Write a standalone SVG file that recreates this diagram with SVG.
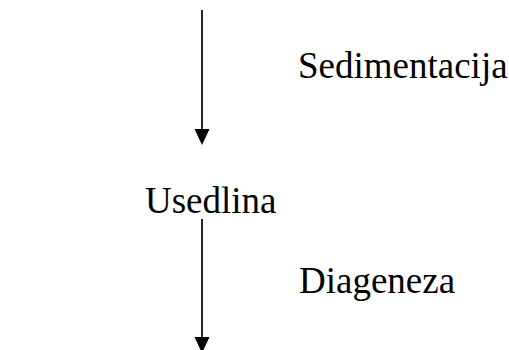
<svg xmlns="http://www.w3.org/2000/svg" width="509" height="350" viewBox="0 0 509 350">
  <style>
    .lbl { font-family: "Liberation Serif", "Times New Roman", serif; font-size: 37px; fill: #000; }
    .edge { stroke: #000; stroke-width: 1.7; fill: none; }
    .tip { fill: #000; }
  </style>
  <g id="connectors">
    <line class="edge" x1="202" y1="10" x2="202" y2="132"/>
    <path class="tip" d="M194.5,129 L209.5,129 L202,145 Z"/>
    <line class="edge" x1="202" y1="219" x2="202" y2="340"/>
    <path class="tip" d="M194.5,337 L209.5,337 L202,353 Z"/>
  </g>
  <g id="sedimentacija">
    <text class="lbl" x="298" y="78">Sedimentacija</text>
  </g>
  <g id="usedlina">
    <text class="lbl" x="145" y="213">Usedlina</text>
  </g>
  <g id="diageneza">
    <text class="lbl" x="299" y="293">Diageneza</text>
  </g>
</svg>
